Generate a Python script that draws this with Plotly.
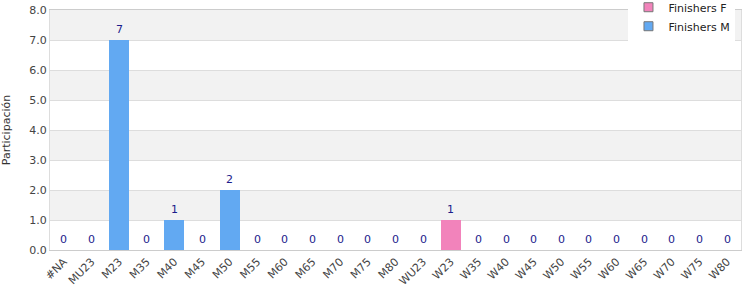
import plotly.graph_objects as go

categories = ["#NA", "MU23", "M23", "M35", "M40", "M45", "M50", "M55", "M60", "M65",
              "M70", "M75", "M80", "WU23", "W23", "W35", "W40", "W45", "W50", "W55",
              "W60", "W65", "W70", "W75", "W80"]
finishers_f = [0, 0, 0, 0, 0, 0, 0, 0, 0, 0, 0, 0, 0, 0, 1, 0, 0, 0, 0, 0, 0, 0, 0, 0, 0]
finishers_m = [0, 0, 7, 0, 1, 0, 2, 0, 0, 0, 0, 0, 0, 0, 0, 0, 0, 0, 0, 0, 0, 0, 0, 0, 0]
totals = [f + m for f, m in zip(finishers_f, finishers_m)]

font = "DejaVu Sans"
pink = "#f283bb"
blue = "#62a9f2"

fig = go.Figure()
fig.add_trace(go.Bar(x=categories, y=finishers_f, name="Finishers F", showlegend=False,
                     marker=dict(color=pink, line=dict(width=0))))
fig.add_trace(go.Bar(x=categories, y=finishers_m, name="Finishers M", showlegend=False,
                     marker=dict(color=blue, line=dict(width=0))))
# legend entries with small bordered square swatches
for name, col in [("Finishers F", pink), ("Finishers M", blue)]:
    fig.add_trace(go.Scatter(x=[None], y=[None], mode="markers", name=name,
                             marker=dict(symbol="square", size=9, color=col,
                                         line=dict(color="#777777", width=1))))

annotations = []
for c, t in zip(categories, totals):
    annotations.append(dict(x=c, y=t, xref="x", yref="y", text=str(t), showarrow=False,
                            yanchor="bottom", yshift=2,
                            font=dict(family=font, size=11, color="#1c1c8c")))

shapes = []
for lo in [1, 3, 5, 7]:
    shapes.append(dict(type="rect", xref="paper", yref="y", x0=0, x1=1, y0=lo, y1=lo + 1,
                       fillcolor="#f2f2f2", line=dict(width=0), layer="below"))

fig.update_layout(
    width=750, height=300,
    margin=dict(l=50, r=9, t=10, b=50, autoexpand=False),
    paper_bgcolor="white", plot_bgcolor="white",
    barmode="stack", bargap=0.27,
    font=dict(family=font, size=11, color="#333"),
    shapes=shapes, annotations=annotations,
    legend=dict(x=0.992, xanchor="right", y=1.072, yanchor="top",
                bgcolor="white", font=dict(family=font, size=11, color="#222"),
                traceorder="normal", tracegroupgap=0, itemwidth=30),
    xaxis=dict(tickangle=-45, showline=True, linecolor="#cccccc", mirror=True,
               tickfont=dict(family=font, size=11, color="#444"), showgrid=False,
               ticks="", automargin=False),
    yaxis=dict(range=[0, 8], dtick=1, tickformat=".1f", showgrid=True, gridcolor="#dddddd",
               showline=True, linecolor="#dddddd", mirror=True, zeroline=False,
               automargin=False,
               tickfont=dict(family=font, size=11, color="#444"),
               title=dict(text="Participación", font=dict(family=font, size=11, color="#333"),
                          standoff=17)),
)
fig.write_html("out.html")
